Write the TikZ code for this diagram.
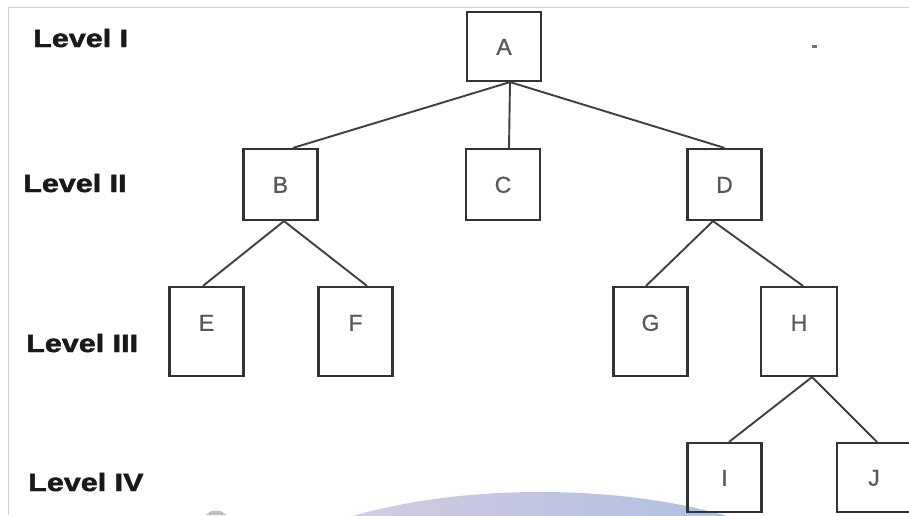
\documentclass[tikz,border=0pt]{standalone}
\usepackage{fontspec}
\setmainfont{Liberation Sans}
\newfontfamily\captionface[FakeBold=1.6]{Liberation Sans Bold}
\newfontfamily\letterface[FakeBold=0.8]{Liberation Sans}
\begin{document}
\begin{tikzpicture}[x=1pt,y=-1pt,
  treebox/.style={draw=black!80, line width=2.2pt, inner sep=0pt,
    minimum width=74pt, minimum height=70pt, text=black!66,
    font=\fontsize{23}{23}\letterface, text height=16.5pt, text depth=0pt},
  tallbox/.style={treebox, minimum height=89pt, text depth=18pt},
  levellabel/.style={anchor=base west, inner sep=0pt, xscale=1.22,
    font=\fontsize{25}{25}\captionface, text=black!90},
  branch/.style={draw=black!75, line width=1.9pt}]
\useasboundingbox (0,0) rectangle (909,515);
\fill[white] (0,0) rectangle (909,515);

% soft backdrop arc along the lower edge
\begin{scope}
  \clip (0,0) rectangle (909,515);
  \shade[left color={rgb,255:red,222;green,206;blue,226},
         right color={rgb,255:red,164;green,189;blue,224}]
    (540,612) ellipse (312 and 120);
  \fill[black!25] (206,515) .. controls (211,509) and (221,509) .. (226,515) -- cycle;
\end{scope}

% thin frame on the top and left sides
\draw[black!18, line width=1pt] (8,515) -- (8,7) -- (909,7);
\fill[black!55] (812,45) rectangle (817,48);

% level captions
\node[levellabel] (l1) at (33,47) {Level I};
\node[levellabel] (l2) at (23,192) {Level II};
\node[levellabel] (l3) at (26,352) {Level III};
\node[levellabel] (l4) at (28,491) {Level IV};

% tree nodes
\node[treebox, minimum height=69pt] (A) at (504,46.5) {A};
\node[treebox, minimum height=71pt] (B) at (280.5,184.5) {B};
\node[treebox, minimum height=71pt] (C) at (503,184.5) {C};
\node[treebox, minimum height=71pt] (D) at (724.5,184.5) {D};
\node[tallbox] (E) at (206.5,331.5) {E};
\node[tallbox] (F) at (355.5,331.5) {F};
\node[tallbox] (G) at (650.5,331.5) {G};
\node[tallbox, minimum width=76pt] (H) at (799,331.5) {H};
\node[treebox, minimum height=69pt] (I) at (724.5,477.5) {I};
\node[treebox, minimum height=69pt] (J) at (874,477.5) {J};

% branches
\draw[branch] ([xshift=6pt]A.south) -- ([xshift=12.5pt]B.north);
\draw[branch] ([xshift=6pt]A.south) -- ([xshift=6pt]C.north);
\draw[branch] ([xshift=6pt]A.south) -- (D.north);
\draw[branch] ([xshift=3.5pt]B.south) -- ([xshift=-3.5pt]E.north);
\draw[branch] ([xshift=3.5pt]B.south) -- ([xshift=11.5pt]F.north);
\draw[branch] ([xshift=-11.5pt]D.south) -- ([xshift=-4.5pt]G.north);
\draw[branch] ([xshift=-11.5pt]D.south) -- ([xshift=4pt]H.north);
\draw[branch] ([xshift=13pt]H.south) -- ([xshift=4.5pt]I.north);
\draw[branch] ([xshift=13pt]H.south) -- ([xshift=3pt]J.north);
\end{tikzpicture}
\end{document}
